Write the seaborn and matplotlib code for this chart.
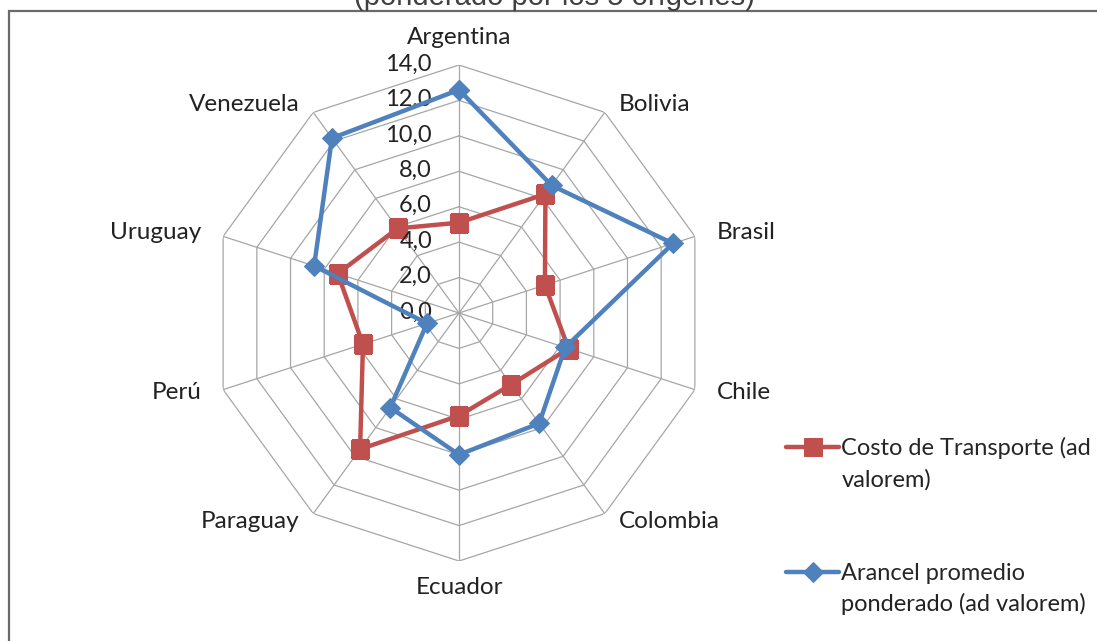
import numpy as np
import pandas as pd
import seaborn as sns
import matplotlib
matplotlib.use("Agg")
from matplotlib import pyplot as plt
from matplotlib.patches import Rectangle

paises = ["Argentina", "Bolivia", "Brasil", "Chile", "Colombia",
          "Ecuador", "Paraguay", "Perú", "Uruguay", "Venezuela"]
costo = [5.1, 8.3, 5.1, 6.5, 5.0, 5.8, 9.5, 5.7, 7.2, 5.9]
arancel = [12.6, 8.9, 12.7, 6.3, 7.7, 8.0, 6.6, 1.9, 8.6, 12.2]
ticks = [0, 2, 4, 6, 8, 10, 12, 14]
serie_costo = ["Costo de Transporte (ad", "valorem)"]
serie_arancel = ["Arancel promedio", "ponderado (ad valorem)"]

sns.set_style("white")
plt.rcParams["font.family"] = ["Lato", "DejaVu Sans"]

n = len(paises)
theta = np.linspace(0, 2 * np.pi, n, endpoint=False)
theta_c = np.append(theta, 2 * np.pi)

df = pd.concat([
    pd.DataFrame({"theta": theta_c, "valor": costo + costo[:1], "serie": "costo"}),
    pd.DataFrame({"theta": theta_c, "valor": arancel + arancel[:1], "serie": "arancel"}),
])

fig = plt.figure(figsize=(10.97, 6.41), dpi=100)
cx, cy, R = 459, 313, 248
ax = fig.add_axes([(cx - R) / 1097, (641 - cy - R) / 641, 2 * R / 1097, 2 * R / 641],
                  projection="polar")
ax.set_theta_zero_location("N")
ax.set_theta_direction(-1)
ax.set_ylim(0, 14)
ax.grid(False)
ax.spines["polar"].set_visible(False)
ax.set_xticks([])
ax.set_yticks([])

# rejilla poligonal
gris = "#A6A6A6"
for t in ticks[1:]:
    ax.plot(theta_c, [t] * (n + 1), color=gris, lw=0.9, zorder=1)
for th in theta:
    ax.plot([th, th], [0, 14], color=gris, lw=0.9, zorder=1)

rojo = "#C0504D"
azul = "#4F81BD"
sns.lineplot(data=df[df.serie == "costo"], x="theta", y="valor", sort=False,
             color=rojo, lw=3.2, marker="s", markersize=13, markeredgecolor=rojo,
             label=serie_costo[0], ax=ax, zorder=3)
sns.lineplot(data=df[df.serie == "arancel"], x="theta", y="valor", sort=False,
             color=azul, lw=3.2, marker="D", markersize=10, markeredgecolor=azul,
             label=serie_arancel[0], ax=ax, zorder=4)
ax.set_xlabel("")
ax.set_ylabel("")
ax.set_ylim(0, 14)

# etiquetas de categorías
offs = [(0, 27, "center"), (14, 8, "left"), (22, 4, "left"), (22, -3, "left"),
        (14, -8, "left"), (0, -27, "center"), (-14, -8, "right"), (-22, -3, "right"),
        (-22, 4, "right"), (-14, 8, "right")]
for th, p, (dx, dy, ha) in zip(theta, paises, offs):
    ax.annotate(p, xy=(th, 14), xytext=(dx, dy), textcoords="offset pixels",
                ha=ha, va="center", fontsize=17.5, color="#222222")

for t in ticks:
    ax.annotate(f"{t:.1f}".replace(".", ","), xy=(0, t), xytext=(-27, 1),
                textcoords="offset pixels", ha="right", va="center",
                fontsize=17, color="#222222")

h, l = ax.get_legend_handles_labels()
ax.legend_.remove()
leg = fig.legend(h, l, loc="upper left", bbox_to_anchor=(786 / 1097, 1 - 437 / 641),
                 frameon=False, fontsize=17, handlelength=2.25, handletextpad=0.1,
                 labelspacing=4.4, borderaxespad=0, borderpad=0)

# segunda línea de cada entrada de la leyenda
fig.canvas.draw()
for txt, resto in zip(leg.get_texts(), [serie_costo[1], serie_arancel[1]]):
    bb = txt.get_window_extent()
    fig.text(bb.x0 / 1097, (bb.y0 - 31) / 641, resto, ha="left", va="bottom",
             fontsize=17, color="#222222")

fig.add_artist(Rectangle((9 / 1097, -0.1), 1.2, 1.1 - 11 / 641, transform=fig.transFigure,
                         fill=False, edgecolor="#6A6A6A", lw=1.6))
fig.text(554 / 1097, 1 - 5 / 641, "(ponderado por los 5 orígenes)", ha="center",
         va="baseline", fontsize=21, color="#404040", family="Liberation Sans")

fig.savefig("out.png", dpi=100)
